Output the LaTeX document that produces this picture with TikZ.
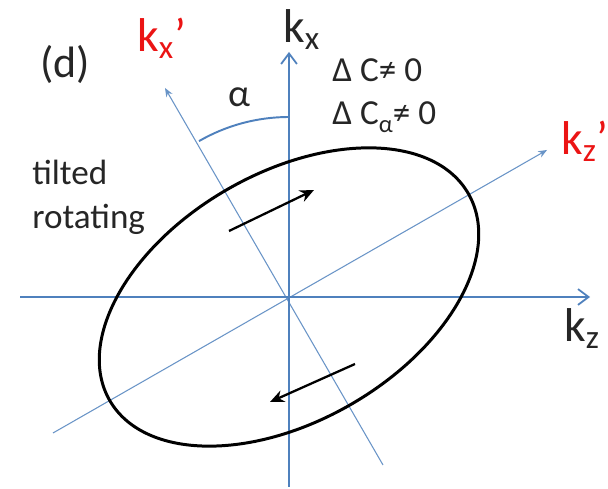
\documentclass[tikz,border=0pt]{standalone}
\usepackage{fontspec}
\setmainfont{Carlito}
\usetikzlibrary{arrows.meta}
\definecolor{axisblue}{RGB}{79,129,189}
\definecolor{labred}{RGB}{235,20,20}
\begin{document}
\begin{tikzpicture}[x=0.02cm,y=0.02cm,
  mainaxis/.style={draw=axisblue,line width=1.1pt,-{Straight Barb[length=6pt,width=9pt,line width=1pt]}},
  tiltaxis/.style={draw=axisblue!85,line width=0.6pt,-{Stealth[length=5pt,width=4pt]}},
  ellipsebox/.style={draw=black,line width=1.7pt},
  rotarrow/.style={draw=black,line width=1.3pt,-{Stealth[length=8pt,width=7pt]}},
  txt/.style={inner sep=0pt,font=\fontsize{20}{23}\selectfont,text=black!85},
  klab/.style={inner sep=0pt,font=\fontsize{27}{30}\selectfont}]
\clip (0,0) rectangle (608,489);
\fill[white] (0,0) rectangle (608,489);
% coordinates
\coordinate (O) at (289,192);
\coordinate (vb) at (289,2);
\coordinate (vt) at (289,437);
\coordinate (hl) at (20,192);
\coordinate (hr) at (590,192);
\coordinate (tb) at (383,24);
\coordinate (tt) at (165,401);
\coordinate (zb) at (53,56);
\coordinate (zt) at (547,339);
% axes
\draw[tiltaxis] (tb) -- (tt);
\draw[tiltaxis] (zb) -- (zt);
\draw[mainaxis] (vb) -- (vt);
\draw[mainaxis] (hl) -- (hr);
% angle arc
\draw[axisblue,line width=1.1pt] (O) ++(90:180) arc[start angle=90,end angle=120,radius=180];
% ellipse
\draw[ellipsebox] (O) ellipse[x radius=207,y radius=124,rotate=30];
% rotation arrows
\coordinate (a1s) at (229,258);
\coordinate (a1e) at (314,299);
\coordinate (a2s) at (355,125);
\coordinate (a2e) at (270,87);
\draw[rotarrow] (a1s) -- (a1e);
\draw[rotarrow] (a2s) -- (a2e);
% labels
\node[inner sep=0pt,font=\fontsize{25}{28}\selectfont,text=black!85,anchor=base west] (d) at (40,411) {(d)};
\node[klab,anchor=base west,text=black!85] (kx) at (283,446) {k\textsubscript{x}};
\node[klab,anchor=base west,text=labred] (kxp) at (137,437) {k\textsubscript{x}’};
\node[klab,anchor=base west,text=labred] (kzp) at (561,334) {k\textsubscript{z}’};
\node[klab,anchor=base west,text=black!85] (kz) at (564,147) {k\textsubscript{z}};
\node[txt,anchor=base west] (dc) at (332,407) {Δ C≠ 0};
\node[txt,anchor=base west] (dca) at (332,364) {Δ C\raisebox{-0.45ex}{\fontsize{14}{16}\selectfont α}≠ 0};
\node[txt,anchor=base west] (t1) at (32,304) {tilted};
\node[txt,anchor=base west] (t2) at (32,260) {rotating};
\node[txt,anchor=base west,font=\fontsize{22}{24}\selectfont] (al) at (228,382) {α};
\end{tikzpicture}
\end{document}
